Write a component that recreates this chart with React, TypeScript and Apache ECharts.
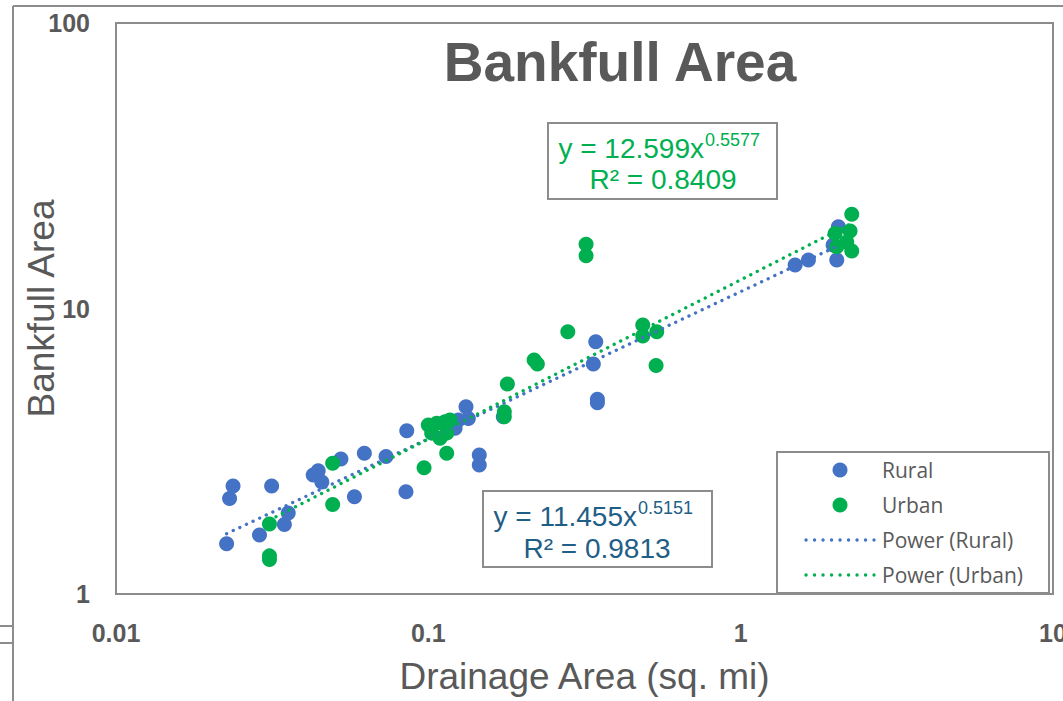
import { useEffect, useRef } from "react";
import * as echarts from "echarts";

// Rural stream sites: drainage area (sq. mi) and bankfull cross-section area (sq. ft)
const ruralArea = [
  0.0226, 0.0231, 0.0237, 0.0288, 0.0315, 0.0346, 0.0356, 0.0428, 0.0444, 0.0456,
  0.0525, 0.058, 0.0624, 0.0732, 0.0853, 0.0848, 0.1248, 0.1218, 0.132, 0.1343,
  0.1456, 0.1456, 0.1738, 0.3375, 0.3436, 0.3478, 0.3478, 1.494, 1.648, 2.055,
  2.031, 1.977,
];
const ruralBankfull = [
  1.5, 2.16, 2.39, 1.61, 2.39, 1.75, 1.92, 2.61, 2.7, 2.47,
  2.97, 2.19, 3.11, 3.03, 3.73, 2.28, 4.07, 3.81, 4.53, 4.12,
  3.07, 2.83, 4.18, 6.39, 7.65, 4.81, 4.68, 14.2, 14.8, 19.35,
  14.79, 16.69,
];

// Urban stream sites
const urbanArea = [
  0.031, 0.031, 0.031, 0.0494, 0.0494, 0.0969, 0.1, 0.1064, 0.1131, 0.1173,
  0.1025, 0.109, 0.1145, 0.1145, 0.1751, 0.1751, 0.1791, 0.2181, 0.2234, 0.2796,
  0.3199, 0.3199, 0.4859, 0.4859, 0.5387, 0.536, 2.268, 2.24, 2.006, 2.186,
  2.031, 2.268,
];
const urbanBankfull = [
  1.76, 1.36, 1.32, 2.87, 2.06, 2.77, 3.91, 3.96, 4.01, 4.07,
  3.66, 3.51, 3.66, 3.11, 4.35, 4.18, 5.44, 6.6, 6.39, 8.29,
  16.8, 15.3, 8.76, 8.01, 8.29, 6.31, 21.4, 18.7, 18.3, 17.1,
  16.46, 15.9,
];

// Power-law fits y = a * x^b
const ruralFit = { a: 11.455, b: 0.5151, r2: "0.9813" };
const urbanFit = { a: 12.599, b: 0.5577, r2: "0.8409" };

const xTickLabels = ["0.01", "0.1", "1", "10"];
const yTickLabels = ["1", "10", "100"];

const BLUE = "#4472C4";
const GREEN = "#00B050";
const RURAL_EQ = "#1F5E86";
const GREY_TEXT = "#595959";
const BORDER = "#8c8c8c";

function fitLine(fit: { a: number; b: number }, xs: number[]) {
  const lo = Math.min(...xs);
  const hi = Math.max(...xs);
  return [lo, hi].map((x) => [x, fit.a * Math.pow(x, fit.b)]);
}

function tickText(v: number, labels: string[]) {
  const match = labels.find((l) => Math.abs(Number(l) - v) / v < 1e-6);
  return match ?? "";
}

export default function App() {
  const ref = useRef<HTMLDivElement>(null);

  useEffect(() => {
    if (!ref.current) return;
    const chart = echarts.init(ref.current, undefined, { renderer: "svg" });

    const dotted = { width: 3.3, type: [0.1, 7.2] as number[], cap: "round" as const };
    const tickFont = {
      color: GREY_TEXT,
      fontFamily: "Liberation Sans",
      fontWeight: "bold" as const,
      fontSize: 25,
    };

    const option: echarts.EChartsOption = {
      animation: false,
      backgroundColor: "#ffffff",
      grid: {
        left: 116,
        top: 23,
        right: 10,
        bottom: 107,
        containLabel: false,
        outerBoundsMode: "none",
        show: true,
        borderColor: BORDER,
        borderWidth: 2,
        backgroundColor: "#ffffff",
      } as any,
      xAxis: {
        type: "log",
        logBase: 10,
        min: 0.01,
        max: 10,
        splitNumber: 3,
        axisLine: { show: false },
        axisTick: { show: false },
        splitLine: { show: false },
        axisLabel: {
          margin: 26,
          ...tickFont,
          formatter: (v: number) => tickText(v, xTickLabels),
        },
        name: "Drainage Area (sq. mi)",
        nameLocation: "middle",
        nameGap: 64,
        nameTextStyle: {
          color: GREY_TEXT,
          fontFamily: "Liberation Sans",
          fontSize: 37,
        },
      },
      yAxis: {
        type: "log",
        logBase: 10,
        min: 1,
        max: 100,
        splitNumber: 2,
        axisLine: { show: false },
        axisTick: { show: false },
        splitLine: { show: false },
        axisLabel: {
          margin: 26,
          ...tickFont,
          formatter: (v: number) => tickText(v, yTickLabels),
        },
        name: "Bankfull Area",
        nameLocation: "middle",
        nameGap: 56,
        nameMoveOverlap: false,
        nameTextStyle: {
          color: GREY_TEXT,
          fontFamily: "Liberation Sans",
          fontSize: 37,
        },
      } as any,
      series: [
        {
          name: "Rural",
          type: "scatter",
          symbol: "circle",
          symbolSize: 15,
          itemStyle: { color: BLUE, opacity: 1 },
          data: ruralArea.map((x, i) => [x, ruralBankfull[i]]),
          z: 2,
        },
        {
          name: "Urban",
          type: "scatter",
          symbol: "circle",
          symbolSize: 15,
          itemStyle: { color: GREEN, opacity: 1 },
          data: urbanArea.map((x, i) => [x, urbanBankfull[i]]),
          z: 3,
        },
        {
          name: "Power (Rural)",
          type: "line",
          showSymbol: false,
          symbol: "none",
          lineStyle: { color: BLUE, ...dotted },
          data: fitLine(ruralFit, ruralArea),
          z: 4,
        },
        {
          name: "Power (Urban)",
          type: "line",
          showSymbol: false,
          symbol: "none",
          lineStyle: { color: GREEN, ...dotted },
          data: fitLine(urbanFit, urbanArea),
          z: 5,
        },
      ],
      graphic: [
        // outer chart frame
        { type: "line", shape: { x1: 13, y1: 6, x2: 1063, y2: 6 }, style: { stroke: BORDER, lineWidth: 2 } },
        { type: "line", shape: { x1: 13, y1: 6, x2: 13, y2: 701 }, style: { stroke: BORDER, lineWidth: 2 } },
        { type: "line", shape: { x1: 0, y1: 626, x2: 13, y2: 626 }, style: { stroke: BORDER, lineWidth: 2 } },
        { type: "line", shape: { x1: 0, y1: 643, x2: 13, y2: 643 }, style: { stroke: BORDER, lineWidth: 2 } },
        // title
        {
          type: "text",
          x: 620,
          y: 62,
          style: {
            text: "Bankfull Area",
            fill: GREY_TEXT,
            font: "bold 55px 'Liberation Sans'",
            textAlign: "center",
            textVerticalAlign: "middle",
          },
        },
        // urban equation label
        {
          type: "rect",
          shape: { x: 548, y: 123, width: 229, height: 76 },
          style: { fill: "#ffffff", stroke: BORDER, lineWidth: 2 },
          z: 10,
        },
        {
          type: "text",
          x: 704,
          y: 148,
          z: 11,
          style: {
            text: "y = " + urbanFit.a.toFixed(3) + "x",
            fill: GREEN,
            font: "28px 'Liberation Sans'",
            textAlign: "right",
            textVerticalAlign: "middle",
          },
        },
        {
          type: "text",
          x: 705,
          y: 140,
          z: 11,
          style: {
            text: urbanFit.b.toFixed(4),
            fill: GREEN,
            font: "18px 'Liberation Sans'",
            textAlign: "left",
            textVerticalAlign: "middle",
          },
        },
        {
          type: "text",
          x: 663,
          y: 179,
          z: 11,
          style: {
            text: "R² = " + urbanFit.r2,
            fill: GREEN,
            font: "28px 'Liberation Sans'",
            textAlign: "center",
            textVerticalAlign: "middle",
          },
        },
        // rural equation label
        {
          type: "rect",
          shape: { x: 483, y: 491, width: 229, height: 76 },
          style: { fill: "#ffffff", stroke: BORDER, lineWidth: 2 },
          z: 10,
        },
        {
          type: "text",
          x: 637,
          y: 516,
          z: 11,
          style: {
            text: "y = " + ruralFit.a.toFixed(3) + "x",
            fill: RURAL_EQ,
            font: "28px 'Liberation Sans'",
            textAlign: "right",
            textVerticalAlign: "middle",
          },
        },
        {
          type: "text",
          x: 638,
          y: 508,
          z: 11,
          style: {
            text: ruralFit.b.toFixed(4),
            fill: RURAL_EQ,
            font: "18px 'Liberation Sans'",
            textAlign: "left",
            textVerticalAlign: "middle",
          },
        },
        {
          type: "text",
          x: 597,
          y: 548,
          z: 11,
          style: {
            text: "R² = " + ruralFit.r2,
            fill: RURAL_EQ,
            font: "28px 'Liberation Sans'",
            textAlign: "center",
            textVerticalAlign: "middle",
          },
        },
        // legend
        {
          type: "rect",
          shape: { x: 777, y: 452, width: 272, height: 141 },
          style: { fill: "#ffffff", stroke: BORDER, lineWidth: 2 },
          z: 10,
        },
        { type: "circle", shape: { cx: 840, cy: 470, r: 7.5 }, style: { fill: BLUE }, z: 11 },
        { type: "circle", shape: { cx: 840, cy: 505, r: 7.5 }, style: { fill: GREEN }, z: 11 },
        {
          type: "line",
          shape: { x1: 806, y1: 540, x2: 874, y2: 540 },
          style: { stroke: BLUE, lineWidth: 3.3, lineDash: [0.1, 8.4], lineCap: "round" },
          z: 11,
        },
        {
          type: "line",
          shape: { x1: 806, y1: 575, x2: 874, y2: 575 },
          style: { stroke: GREEN, lineWidth: 3.3, lineDash: [0.1, 8.4], lineCap: "round" },
          z: 11,
        },
        ...["Rural", "Urban", "Power (Rural)", "Power (Urban)"].map((t, i) => ({
          type: "text" as const,
          x: 882,
          y: 470 + i * 35,
          z: 11,
          style: {
            text: t,
            fill: GREY_TEXT,
            font: "21px 'Open Sans'",
            textAlign: "left" as const,
            textVerticalAlign: "middle" as const,
          },
        })),
      ],
    };

    chart.setOption(option);
    return () => chart.dispose();
  }, []);

  return (
    <div
      ref={ref}
      style={{ position: "absolute", left: 0, top: 0, width: 1063, height: 701 }}
    />
  );
}
